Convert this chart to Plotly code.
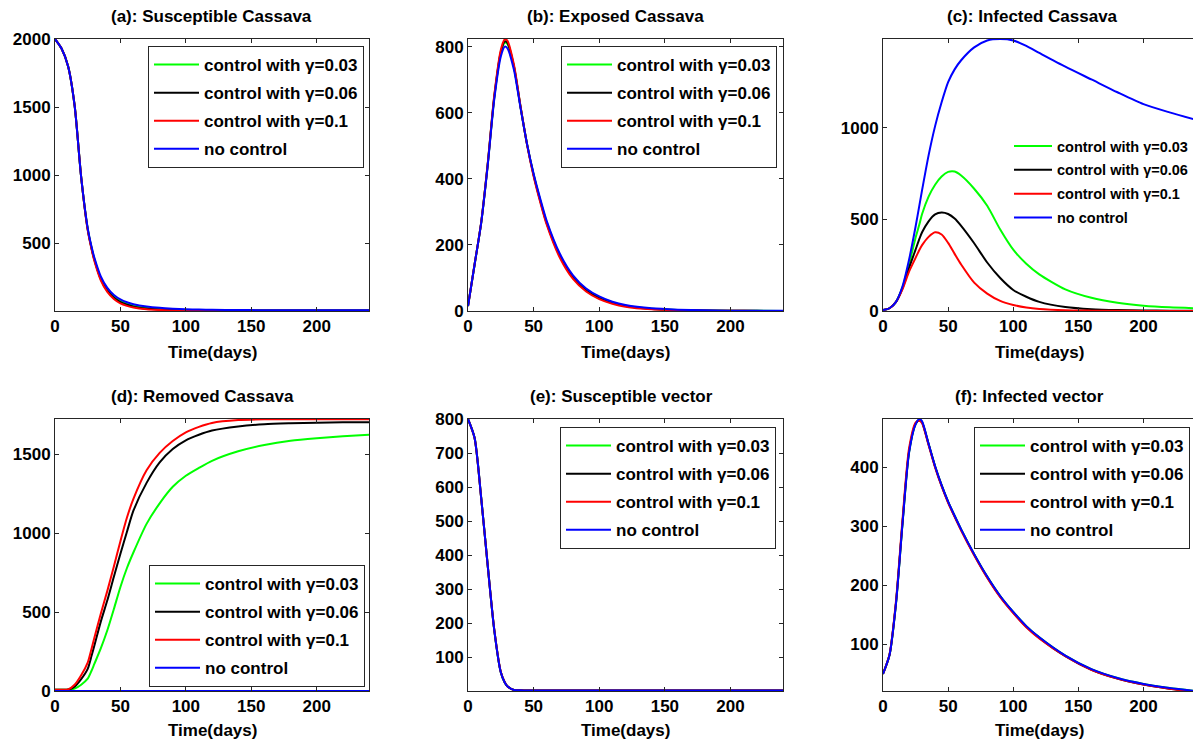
import plotly.graph_objects as go

# Time grid (days) shared by every series
T = [0, 5, 10, 15, 20, 25, 28, 30, 35, 40, 45, 50, 55, 60, 70, 80, 90, 100,
     110, 120, 140, 160, 180, 200, 220, 240]

SERIES_NAMES = ["control with γ=0.03", "control with γ=0.06",
                "control with γ=0.1", "no control"]
SERIES_COLORS = ["#00ff00", "#000000", "#ff0000", "#0000ff"]

# (a) Susceptible cassava
SC_G03 = [2000, 1930, 1800, 1510, 985, 605, 462, 385, 240, 155, 105, 72, 52, 38, 22, 14, 9, 7, 6, 5, 4, 4, 4, 4, 4, 4]
SC_G06 = [2000, 1930, 1800, 1510, 985, 600, 458, 380, 235, 150, 98, 66, 46, 32, 18, 11, 7, 5, 4, 4, 3, 3, 3, 3, 3, 3]
SC_G10 = [2000, 1930, 1800, 1510, 985, 595, 452, 372, 226, 140, 88, 56, 38, 25, 12, 7, 4, 3, 2, 2, 2, 2, 2, 2, 2, 2]
SC_NONE = [2000, 1930, 1800, 1510, 985, 610, 470, 395, 255, 170, 118, 85, 64, 50, 33, 23, 17, 13, 11, 9, 7, 6, 5, 5, 5, 5]

# (b) Exposed cassava
EC_G03 = [15, 140, 265, 442, 645, 780, 812, 808, 738, 618, 505, 413, 336, 268, 169, 104, 65, 41, 26, 16, 7, 3, 1.5, 1, 0.5, 0.3]
EC_G06 = [15, 140, 266, 443, 648, 784, 816, 812, 740, 618, 504, 411, 334, 265, 166, 101, 62, 39, 24, 15, 6, 3, 1.5, 0.8, 0.4, 0.2]
EC_G10 = [15, 141, 267, 445, 652, 790, 822, 818, 745, 620, 503, 408, 330, 261, 161, 97, 59, 36, 22, 13, 5, 2, 1, 0.5, 0.3, 0.2]
EC_NONE = [15, 140, 265, 440, 640, 770, 800, 795, 730, 615, 505, 415, 340, 272, 173, 108, 68, 44, 28, 18, 8, 4, 2, 1, 1, 0.5]

# (c) Infected cassava
IC_G03 = [5, 15, 50, 130, 255, 400, 475, 530, 625, 690, 735, 760, 762, 740, 668, 575, 445, 335, 258, 200, 118, 72, 45, 29, 20, 15]
IC_G06 = [5, 15, 50, 125, 235, 335, 395, 430, 490, 528, 538, 530, 505, 465, 370, 265, 180, 115, 78, 50, 22, 10, 5, 3, 2, 1]
IC_G10 = [5, 15, 50, 120, 215, 290, 335, 360, 405, 430, 418, 372, 312, 254, 155, 95, 55, 33, 19, 11, 4, 2, 1, 0.5, 0.3, 0.2]
IC_NONE = [5, 15, 50, 135, 280, 460, 580, 660, 850, 1010, 1140, 1250, 1320, 1370, 1440, 1478, 1486, 1478, 1448, 1410, 1335, 1265, 1195, 1130, 1085, 1045]

# (d) Removed cassava
RC_G03 = [8, 8, 8, 15, 40, 78, 130, 170, 270, 385, 520, 660, 780, 880, 1060, 1190, 1295, 1365, 1415, 1460, 1520, 1560, 1587, 1603, 1615, 1625]
RC_G06 = [8, 8, 9, 28, 75, 140, 225, 285, 440, 575, 725, 870, 1010, 1145, 1320, 1450, 1535, 1590, 1625, 1652, 1678, 1692, 1698, 1702, 1704, 1705]
RC_G10 = [8, 8, 10, 40, 100, 180, 270, 335, 490, 635, 790, 950, 1100, 1220, 1400, 1510, 1585, 1640, 1675, 1700, 1718, 1723, 1724, 1724, 1724, 1724]
RC_NONE = [0] * 26

# (e) Susceptible vector
SV_G03 = [800, 745, 570, 370, 180, 55, 25, 14, 3, 2, 1.5, 1.5, 1.5, 1.5, 1.5, 1.5, 1.5, 1.5, 1.5, 1.5, 1.5, 1.5, 1.5, 1.5, 1.5, 1.5]
SV_G06 = [800, 745, 570, 370, 180, 55, 25, 14, 3, 2, 1.5, 1.5, 1.5, 1.5, 1.5, 1.5, 1.5, 1.5, 1.5, 1.5, 1.5, 1.5, 1.5, 1.5, 1.5, 1.5]
SV_G10 = [800, 744, 569, 369, 181, 56, 26, 14, 3, 2, 1.5, 1.5, 1.5, 1.5, 1.5, 1.5, 1.5, 1.5, 1.5, 1.5, 1.5, 1.5, 1.5, 1.5, 1.5, 1.5]
SV_NONE = [800, 745, 570, 370, 180, 55, 25, 14, 3, 2, 1.5, 1.5, 1.5, 1.5, 1.5, 1.5, 1.5, 1.5, 1.5, 1.5, 1.5, 1.5, 1.5, 1.5, 1.5, 1.5]

# (f) Infected vector
IV_G03 = [50, 82, 170, 305, 425, 473, 481, 477, 440, 402, 370, 342, 318, 295, 253, 215, 182, 155, 131, 112, 81, 58, 43, 33, 26, 21]
IV_G06 = [50, 82, 171, 307, 427, 474, 480, 476, 439, 401, 369, 341, 317, 294, 252, 214, 181, 154, 130, 111, 80, 57, 42, 32, 25, 20]
IV_G10 = [50, 83, 174, 312, 432, 476, 479, 475, 438, 400, 368, 340, 316, 293, 251, 213, 180, 153, 129, 110, 80, 57, 42, 32, 25, 20]
IV_NONE = [50, 82, 170, 305, 425, 473, 482, 478, 440, 402, 370, 342, 318, 295, 253, 215, 182, 155, 131, 112, 81, 58, 43, 33, 26, 21]

X_TICKS = [0, 50, 100, 150, 200]

PANELS = [
    dict(title="(a): Susceptible Cassava", data=[SC_G03, SC_G06, SC_G10, SC_NONE],
         yrange=[0, 2000], yticks=[500, 1000, 1500, 2000], xrange=[0, 240]),
    dict(title="(b): Exposed Cassava", data=[EC_G03, EC_G06, EC_G10, EC_NONE],
         yrange=[0, 823], yticks=[0, 200, 400, 600, 800], xrange=[0, 240]),
    dict(title="(c): Infected Cassava", data=[IC_G03, IC_G06, IC_G10, IC_NONE],
         yrange=[0, 1486], yticks=[0, 500, 1000], xrange=[0, 238]),
    dict(title="(d): Removed Cassava", data=[RC_G03, RC_G06, RC_G10, RC_NONE],
         yrange=[0, 1725], yticks=[0, 500, 1000, 1500], xrange=[0, 240]),
    dict(title="(e): Susceptible vector", data=[SV_G03, SV_G06, SV_G10, SV_NONE],
         yrange=[0, 800], yticks=[100, 200, 300, 400, 500, 600, 700, 800], xrange=[0, 240]),
    dict(title="(f): Infected vector", data=[IV_G03, IV_G06, IV_G10, IV_NONE],
         yrange=[21, 482], yticks=[100, 200, 300, 400], xrange=[0, 238]),
]

W, H = 1193, 744
# plot-area boxes in pixels: (left, right, top, bottom)
BOXES = [
    (55, 369, 39, 311), (468, 783, 39, 311), (883, 1193, 39, 311),
    (55, 369, 419, 691), (468, 783, 419, 691), (883, 1193, 419, 691),
]
TITLE_X = [211, 615, 1032, 202, 621, 1029]
TITLE_Y = [17, 17, 17, 396, 396, 396]
XLABEL_Y = [352, 352, 352, 730, 730, 730]
# legend anchors: (x px, y px of top edge, anchor side)
LEGEND_POS = [(364, 46, "right"), (777, 46, "right"), (1193, 130, "right"),
              (365, 565, "right"), (776, 427, "right"), (1190, 427, "right")]

FONT = "Liberation Sans, Arial, sans-serif"
AXIS_COLOR = "#262626"

fig = go.Figure()
layout = dict(
    width=W, height=H,
    margin=dict(l=0, r=0, t=0, b=0),
    paper_bgcolor="white", plot_bgcolor="white",
    font=dict(family=FONT, size=17, color="black", weight="bold"),
    annotations=[],
)

for i, panel in enumerate(PANELS):
    n = i + 1
    sfx = "" if n == 1 else str(n)
    legend_id = "legend" + sfx
    for k in range(4):
        fig.add_trace(go.Scatter(
            x=T, y=panel["data"][k], mode="lines", name=SERIES_NAMES[k],
            line=dict(color=SERIES_COLORS[k], width=2, shape="spline", smoothing=0.7),
            xaxis="x" + sfx, yaxis="y" + sfx,
            legend=legend_id, legendgroup=f"p{n}s{k}", showlegend=True,
        ))
    left, right, top, bottom = BOXES[i]
    mirror_y = "ticks" if right < W else False
    layout["xaxis" + sfx] = dict(
        domain=[left / W, right / W], anchor="y" + sfx, range=panel["xrange"],
        tickvals=X_TICKS, ticks="inside", ticklen=4, tickcolor=AXIS_COLOR,
        showline=True, linecolor=AXIS_COLOR, linewidth=1, mirror="ticks",
        showgrid=False, zeroline=False, automargin=False,
        tickfont=dict(family=FONT, size=17, color="black", weight="bold"),
    )
    layout["yaxis" + sfx] = dict(
        domain=[1 - bottom / H, 1 - top / H], anchor="x" + sfx, range=panel["yrange"],
        tickvals=panel["yticks"], ticks="inside", ticklen=4, tickcolor=AXIS_COLOR,
        showline=True, linecolor=AXIS_COLOR, linewidth=1, mirror=mirror_y,
        showgrid=False, zeroline=False, automargin=False,
        tickfont=dict(family=FONT, size=17, color="black", weight="bold"),
    )
    lx, ly, side = LEGEND_POS[i]
    boxed = n != 3
    layout[legend_id] = dict(
        x=lx / W, y=1 - ly / H, xref="paper", yref="paper",
        xanchor=side, yanchor="top",
        bgcolor="white" if boxed else "rgba(0,0,0,0)",
        bordercolor=AXIS_COLOR, borderwidth=1 if boxed else 0,
        font=dict(family=FONT, size=17 if boxed else 14.5, color="black", weight="bold"),
        traceorder="grouped", tracegroupgap=3 if boxed else 2,
        itemwidth=45 if boxed else 38,
    )
    layout["annotations"].append(dict(
        text=panel["title"], x=TITLE_X[i] / W, y=1 - TITLE_Y[i] / H,
        xref="paper", yref="paper", xanchor="center", yanchor="middle",
        showarrow=False, font=dict(family=FONT, size=17, color="black", weight="bold"),
    ))
    layout["annotations"].append(dict(
        text="Time(days)", x=(left + right) / 2 / W if right < W else (left + 1196) / 2 / W,
        y=1 - XLABEL_Y[i] / H,
        xref="paper", yref="paper", xanchor="center", yanchor="middle",
        showarrow=False, font=dict(family=FONT, size=17, color="black", weight="bold"),
    ))

fig.update_layout(**layout)
fig.write_html("out.html")
